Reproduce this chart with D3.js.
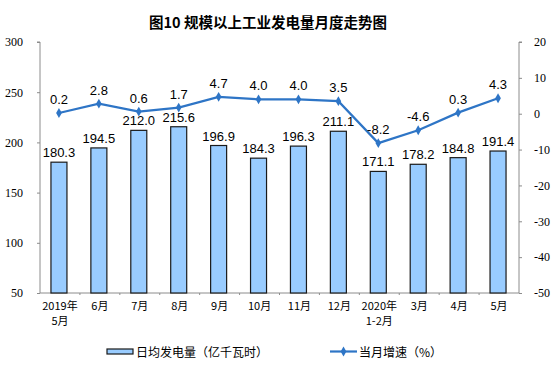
<!DOCTYPE html>
<html><head><meta charset="utf-8">
<script src="https://cdn.jsdelivr.net/npm/d3@7"></script>
<style>body{margin:0;background:#fff}svg{display:block}</style>
</head><body>
<svg id="c" width="557" height="384"></svg>
<script>
const categories = ["2019年\n5月","6月","7月","8月","9月","10月","11月","12月","2020年\n1-2月","3月","4月","5月"];
const barValues = [180.3,194.5,212.0,215.6,196.9,184.3,196.3,211.1,171.1,178.2,184.8,191.4];
const lineValues = [0.2,2.8,0.6,1.7,4.7,4.0,4.0,3.5,-8.2,-4.6,0.3,4.3];
const leftTicks = [50,100,150,200,250,300];
const rightTicks = [-50,-40,-30,-20,-10,0,10,20];
const title = "图10  规模以上工业发电量月度走势图";
const barLegend = "日均发电量（亿千瓦时）";
const lineLegend = "当月增速（%）";

const svg = d3.select("#c");
const L = 40, R = 519, T = 42, B = 293;
const x = d3.scaleBand().domain(categories).range([L, R]);
const yL = d3.scaleLinear().domain([50,300]).range([B, T]);
const yR = d3.scaleLinear().domain([-50,20]).range([B, T]);
const axisColor = "#8c8c8c";
const tickFont = "'Liberation Serif','Times New Roman',serif";
const labFont = "'Liberation Sans',Arial,sans-serif";

svg.append("text").attr("x", 268).attr("y", 28).attr("text-anchor","middle")
  .attr("font-family","'Noto Sans CJK SC',sans-serif").attr("font-size",14.5).attr("font-weight","bold")
  .attr("fill","#000").text(title);

// left axis
const gL = svg.append("g").attr("transform",`translate(${L},0)`)
  .call(d3.axisLeft(yL).tickValues(leftTicks).tickFormat(d=>String(d)).tickSize(3).tickPadding(14));
gL.selectAll("path,line").attr("stroke",axisColor);
gL.selectAll("text").attr("font-family",tickFont).attr("font-size",12).attr("fill","#000");
gL.select(".domain").attr("d",`M-3,${T}H0V${B}`);

// right axis
const gR = svg.append("g").attr("transform",`translate(${R},0)`)
  .call(d3.axisRight(yR).tickValues(rightTicks).tickFormat(d=>String(d)).tickSize(3).tickPadding(12));
gR.selectAll("path,line").attr("stroke",axisColor);
gR.selectAll("text").attr("font-family",tickFont).attr("font-size",12).attr("fill","#000");
gR.select(".domain").attr("d",`M3,${T}H0V${B}`);

// bottom axis
const gB = svg.append("g").attr("transform",`translate(0,${B})`);
gB.append("line").attr("x1",L).attr("x2",R).attr("stroke",axisColor);
gB.selectAll("line.t").data(categories.slice(1)).enter().append("line")
  .attr("x1",d=>x(d)).attr("x2",d=>x(d)).attr("y1",0).attr("y2",2).attr("stroke",axisColor);
gB.selectAll("text").data(categories).enter().append("text")
  .attr("x",d=>x(d)+x.bandwidth()/2).attr("y",17).attr("text-anchor","middle")
  .attr("font-family","'Noto Sans CJK SC',sans-serif").attr("font-size",11).attr("fill","#000")
  .each(function(d){
    const lines = d.split("\n");
    lines.forEach((s,i)=>d3.select(this).append("tspan").attr("x",x(d)+x.bandwidth()/2).attr("dy",i?15:0).text(s));
  });

// bars
const bw = 16;
svg.append("g").selectAll("rect").data(barValues).enter().append("rect")
  .attr("x",(d,i)=>x(categories[i])+x.bandwidth()/2-bw/2-1)
  .attr("y",d=>yL(d)).attr("width",bw).attr("height",d=>B-yL(d))
  .attr("fill","#99ccff").attr("stroke","#1a1a1a").attr("stroke-width",1.2);
svg.append("g").selectAll("text").data(barValues).enter().append("text")
  .attr("x",(d,i)=>x(categories[i])+x.bandwidth()/2-1).attr("y",d=>yL(d)-5)
  .attr("text-anchor","middle").attr("font-family",labFont).attr("font-size",13).attr("fill","#000")
  .text(d=>d.toFixed(1));

// line
const lineColor = "#2e75c6";
const cx = (i)=>x(categories[i])+x.bandwidth()/2-1;
svg.append("path").datum(lineValues)
  .attr("d",d3.line().x((d,i)=>cx(i)).y(d=>yR(d)))
  .attr("fill","none").attr("stroke",lineColor).attr("stroke-width",2.2);
svg.append("g").selectAll("path").data(lineValues).enter().append("path")
  .attr("transform",(d,i)=>`translate(${cx(i)},${yR(d)})`)
  .attr("d",d3.symbol().type(d3.symbolDiamond).size(28))
  .attr("fill",lineColor);
svg.append("g").selectAll("text").data(lineValues).enter().append("text")
  .attr("x",(d,i)=>cx(i)).attr("y",d=>yR(d)-9)
  .attr("text-anchor","middle").attr("font-family",labFont).attr("font-size",13).attr("fill","#000")
  .text(d=>d.toFixed(1));

// legend
const lg = svg.append("g");
lg.append("rect").attr("x",107).attr("y",349).attr("width",26).attr("height",5)
  .attr("fill","#99ccff").attr("stroke","#1a1a1a").attr("stroke-width",1.2);
lg.append("text").attr("x",136).attr("y",357).attr("font-family","'Noto Sans CJK SC',sans-serif")
  .attr("font-size",12).attr("fill","#000").text(barLegend);
lg.append("line").attr("x1",330).attr("x2",357).attr("y1",351.5).attr("y2",351.5)
  .attr("stroke",lineColor).attr("stroke-width",2.2);
lg.append("path").attr("transform","translate(343.5,351.5)")
  .attr("d",d3.symbol().type(d3.symbolDiamond).size(28)).attr("fill",lineColor);
lg.append("text").attr("x",359).attr("y",357).attr("font-family","'Noto Sans CJK SC',sans-serif")
  .attr("font-size",12).attr("fill","#000").text(lineLegend);
</script>
</body></html>
